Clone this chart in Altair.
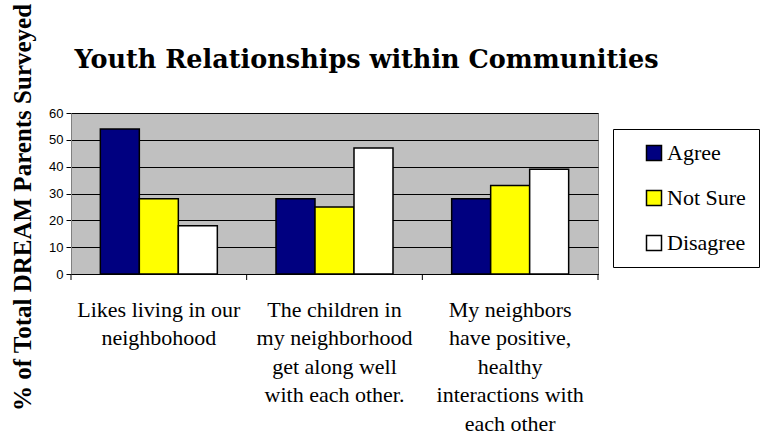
import altair as alt
import pandas as pd

categories = [
    "Likes living in our|neighbohood",
    "The children in|my neighborhood|get along well|with each other.",
    "My neighbors|have positive,|healthy|interactions with|each other",
]
responses = ["Agree", "Not Sure", "Disagree"]
agree = [54, 28, 28]
not_sure = [28, 25, 33]
disagree = [18, 47, 39]
colors = ["#000080", "#FFFF00", "#FFFFFF"]
boundaries = [0, 1, 2, 3]

rows = []
for i, c in enumerate(categories):
    for r, vals in zip(responses, [agree, not_sure, disagree]):
        rows.append({"category": c, "response": r, "value": vals[i]})
df = pd.DataFrame(rows)
bdf = pd.DataFrame({"b": boundaries})

W, H = 527, 161

bars = alt.Chart(df).mark_bar(stroke="black", strokeWidth=1.5).encode(
    x=alt.X(
        "category:N",
        sort=categories,
        scale=alt.Scale(paddingInner=0.334, paddingOuter=0.167),
        axis=alt.Axis(
            title=None,
            labelAngle=0,
            ticks=False,
            domain=True,
            domainColor="black",
            domainWidth=1,
            labelExpr="split(datum.label, '|')",
            labelFont="Liberation Serif",
            labelFontSize=22,
            labelColor="black",
            labelLineHeight=28.5,
            labelPadding=25,
            labelBaseline="top",
            labelLimit=300,
        ),
    ),
    xOffset=alt.XOffset("response:N", sort=responses, scale=alt.Scale(paddingInner=0, paddingOuter=0)),
    y=alt.Y(
        "value:Q",
        scale=alt.Scale(domain=[0, 60]),
        axis=alt.Axis(
            values=[0, 10, 20, 30, 40, 50, 60],
            title="% of Total DREAM Parents Surveyed",
            titleFont="Liberation Serif",
            titleFontWeight="bold",
            titleFontSize=25,
            titleColor="black",
            titleAngle=-90,
            titleAlign="center",
            titleBaseline="alphabetic",
            titleX=-41,
            titleY=94,
            labelFont="Liberation Sans",
            labelFontSize=13,
            labelColor="black",
            labelPadding=3,
            tickColor="black",
            tickSize=5,
            domainColor="#808080",
            gridColor="black",
            gridWidth=1,
        ),
    ),
    color=alt.Color(
        "response:N",
        sort=responses,
        scale=alt.Scale(domain=responses, range=colors),
        legend=alt.Legend(
            title=None,
            orient="none",
            legendX=542,
            legendY=16,
            fillColor="white",
            strokeColor="black",
            padding=13,
            symbolType="square",
            symbolSize=225,
            symbolStrokeColor="black",
            symbolStrokeWidth=1.5,
            symbolOffset=17,
            labelFont="Liberation Serif",
            labelFontSize=22,
            labelColor="black",
            labelOffset=2,
            rowPadding=23,
        ),
    ),
)

ticks = alt.Chart(bdf).mark_rule(color="black", strokeWidth=1).encode(
    x=alt.X("b:Q", scale=alt.Scale(domain=[0, 3], nice=False, zero=False), axis=None),
    y=alt.value(H),
    y2=alt.value(H + 6),
)

chart = (
    alt.layer(bars, ticks)
    .resolve_scale(x="independent")
    .properties(
        width=W,
        height=H,
        padding={"left": 71, "top": 113, "right": 164, "bottom": 163},
        autosize=alt.AutoSizeParams(type="none"),
        background="white",
        title=alt.TitleParams(
            "Youth Relationships within Communities",
            font="DejaVu Serif",
            fontWeight="bold",
            fontSize=25.5,
            color="black",
            anchor="middle",
            frame="group",
            dx=32,
            offset=0,
            dy=90,
            baseline="alphabetic",
        ),
    )
    .configure_view(fill="#C0C0C0", stroke="#808080", strokeWidth=1)
)

chart.save("out.html", embed_options={"renderer": "svg", "actions": False})
